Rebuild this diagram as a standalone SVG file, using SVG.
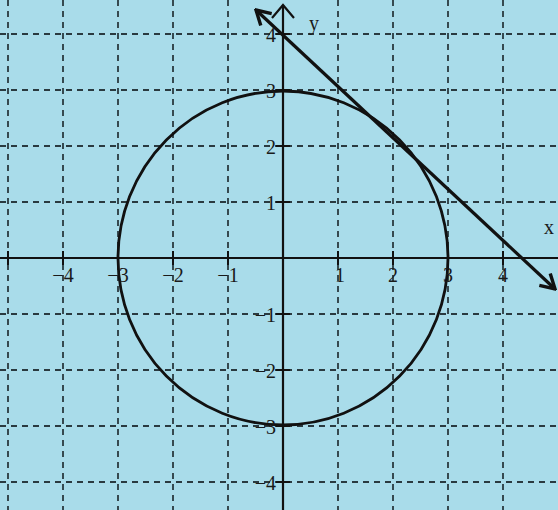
<svg xmlns="http://www.w3.org/2000/svg" width="558" height="510" viewBox="0 0 558 510">
<defs>
<style>
.grid{stroke:#2a3a40;stroke-width:1.8;stroke-dasharray:6 5;fill:none}
.axis{stroke:#111;stroke-width:2.2;fill:none}
.curve{stroke:#111;stroke-width:2.8;fill:none}
.tan{stroke:#111;stroke-width:3.2;fill:none}
.tick{stroke:#111;stroke-width:2}
.lbl{font-family:"Liberation Serif",serif;font-size:20px;fill:#1a1a1a}
.xl{text-anchor:middle}
.yl{text-anchor:end}
</style>
<marker id="head" viewBox="0 0 20 20" refX="18" refY="10" markerWidth="20" markerHeight="20" markerUnits="userSpaceOnUse" orient="auto-start-reverse">
<path d="M4 2 L18 10 L4 18" fill="none" stroke="#111" stroke-width="3.4"/>
</marker>
</defs>
<rect width="558" height="510" fill="#a9dcea"/>
<g id="grid">
<path class="grid" d="M8 0V510M63 0V510M118 0V510M173 0V510M228 0V510M338 0V510M393 0V510M448 0V510M503 0V510"/>
<path class="grid" d="M0 34H558M0 90H558M0 146H558M0 202H558M0 314H558M0 370H558M0 426H558M0 482H558"/>
</g>
<g id="axes">
<line class="axis" x1="0" y1="258" x2="558" y2="258"/>
<line class="axis" x1="283" y1="510" x2="283" y2="5"/>
<polyline class="axis" points="272,18 283,5 294,18"/>
<path class="tick" d="M8 251V265M63 251V265M118 251V265M173 251V265M228 251V265M338 251V265M393 251V265M448 251V265M503 251V265"/>
<path class="tick" d="M276 34H290M276 90H290M276 146H290M276 202H290M276 314H290M276 370H290M276 426H290M276 482H290"/>
</g>
<g id="circle">
<ellipse class="curve" cx="283" cy="258" rx="165" ry="167"/>
</g>
<g id="connectors">
<line class="tan" x1="256" y1="10" x2="555" y2="289" marker-start="url(#head)" marker-end="url(#head)"/>
</g>
<g id="labels">
<text class="lbl" x="309" y="30">y</text>
<text class="lbl" x="544" y="234">x</text>
<text class="lbl xl" x="63" y="282">−4</text>
<text class="lbl xl" x="118" y="282">−3</text>
<text class="lbl xl" x="173" y="282">−2</text>
<text class="lbl xl" x="228" y="282">−1</text>
<text class="lbl xl" x="340" y="282">1</text>
<text class="lbl xl" x="393" y="282">2</text>
<text class="lbl xl" x="448" y="282">3</text>
<text class="lbl xl" x="503" y="282">4</text>
<text class="lbl yl" x="276" y="42">4</text>
<text class="lbl yl" x="276" y="98">3</text>
<text class="lbl yl" x="276" y="154">2</text>
<text class="lbl yl" x="276" y="210">1</text>
<text class="lbl yl" x="276" y="322">−1</text>
<text class="lbl yl" x="276" y="378">−2</text>
<text class="lbl yl" x="276" y="434">−3</text>
<text class="lbl yl" x="276" y="490">−4</text>
</g>
</svg>
